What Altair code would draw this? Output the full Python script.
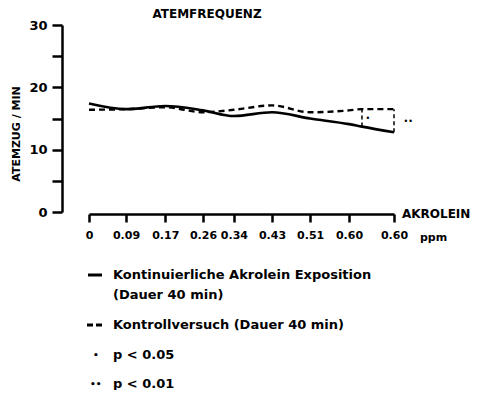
import altair as alt
import pandas as pd

# ---- data ----
TICK_LABELS = ["0", "0.09", "0.17", "0.26", "0.34", "0.43", "0.51", "0.60", "0.60"]
TICK_POS = [0, 0.97, 2.0, 2.99, 3.8, 4.8, 5.8, 6.82, 8.0]

POS = [0, 0.97, 2.0, 2.99, 3.8, 4.8, 5.8, 6.82, 7.16, 8.0]
SOLID_VAL = [17.4, 16.5, 17.0, 16.3, 15.4, 16.0, 15.0, 14.1, 13.7, 12.8]
DASH_VAL = [16.4, 16.5, 16.8, 16.0, 16.4, 17.1, 16.0, 16.3, 16.5, 16.5]

SIG_POS = [7.16, 8.0]
SIG_LO = [13.7, 12.8]
SIG_HI = [16.5, 16.5]

MARK_POS = [7.25, 8.25]
MARK_VAL = [14.9, 14.4]
MARK_TEXT = ["•", "••"]

FONT = "DejaVu Sans"

solid_df = pd.DataFrame({"x": POS, "y": SOLID_VAL})
dash_df = pd.DataFrame({"x": POS, "y": DASH_VAL})
sig_df = pd.DataFrame({"x": SIG_POS, "lo": SIG_LO, "hi": SIG_HI})
mark_df = pd.DataFrame({"x": MARK_POS, "y": MARK_VAL, "t": MARK_TEXT})
one = pd.DataFrame({"a": [0]})

# label expression for x axis built from tick lists
expr = "'" + TICK_LABELS[-1] + "'"
for i in range(len(TICK_POS) - 2, -1, -1):
    mid = (TICK_POS[i] + TICK_POS[i + 1]) / 2
    expr = f"datum.value < {mid} ? '{TICK_LABELS[i]}' : ({expr})"

xscale = alt.Scale(domain=[0, 8], nice=False, zero=False)
yscale = alt.Scale(domain=[0, 30], nice=False)

xaxis = alt.Axis(values=TICK_POS, tickCount=20, labelExpr=expr, title=None,
                 grid=False, offset=2, domainWidth=2.5, tickWidth=2.5,
                 tickSize=8, labelPadding=7, labelFont=FONT, labelFontSize=11,
                 labelFontWeight="bold", labelColor="black",
                 labelOverlap=False, labelFlush=False,
                 domainColor="black", tickColor="black")
yaxis = alt.Axis(values=[0, 5, 10, 15, 20, 25, 30], tickCount=20,
                 labelExpr="datum.value % 10 === 0 ? datum.label : ''",
                 title=None, grid=False, offset=27, domainWidth=2.5,
                 tickWidth=2.5, tickSize=10, labelPadding=5, labelFont=FONT,
                 labelFontSize=13, labelFontWeight="bold", labelColor="black",
                 labelOverlap=False,
                 domainColor="black", tickColor="black")

solid = alt.Chart(solid_df).mark_line(color="black", strokeWidth=2.6,
                                      interpolate="monotone").encode(
    x=alt.X("x:Q", scale=xscale, axis=xaxis),
    y=alt.Y("y:Q", scale=yscale, axis=yaxis),
)
dashed = alt.Chart(dash_df).mark_line(color="black", strokeWidth=2.4,
                                      strokeDash=[6, 4],
                                      interpolate="monotone").encode(
    x=alt.X("x:Q", scale=xscale),
    y=alt.Y("y:Q", scale=yscale),
)
sig = alt.Chart(sig_df).mark_rule(color="black", strokeWidth=1.5,
                                  strokeDash=[4, 3]).encode(
    x=alt.X("x:Q", scale=xscale),
    y=alt.Y("lo:Q", scale=yscale),
    y2="hi:Q",
)
marks = alt.Chart(mark_df).mark_text(font=FONT, fontSize=8, color="black",
                                     align="left").encode(
    x=alt.X("x:Q", scale=xscale),
    y=alt.Y("y:Q", scale=yscale),
    text="t:N",
)


def txt(s, x, y, size=13, align="left", angle=0):
    kw = dict(font=FONT, fontSize=size, fontWeight="bold", color="black",
              align=align, baseline="middle", text=s)
    if angle:
        kw["angle"] = angle
    return alt.Chart(one).mark_text(**kw).encode(x=alt.value(x), y=alt.value(y))


def rule(x1, x2, y, dash=None, w=3):
    kw = dict(color="black", strokeWidth=w)
    if dash:
        kw["strokeDash"] = dash
    return alt.Chart(one).mark_rule(**kw).encode(
        x=alt.value(x1), x2=alt.value(x2), y=alt.value(y))


# positions below are relative to plot origin (page x=89, y=25)
annot = [
    txt("ATEMFREQUENZ", 118, -11, size=12, align="center"),
    txt("ATEMZUG / MIN", -72, 109, size=11, align="center", angle=270),
    txt("AKROLEIN", 313, 189, size=12),
    txt("ppm", 331, 213, size=11),
    rule(-1, 13, 250, w=3),
    txt("Kontinuierliche Akrolein Exposition", 24, 250),
    txt("(Dauer 40 min)", 24, 270),
    rule(-2, 13, 300, dash=[6, 3], w=3),
    txt("Kontrollversuch  (Dauer 40 min)", 24, 300),
    txt("•", 4, 330, size=9),
    txt("p  <  0.05", 24, 330),
    txt("••", 1, 359, size=9),
    txt("p  <  0.01", 24, 359),
]

chart = alt.layer(solid, dashed, sig, marks, *annot).properties(
    width=305, height=187,
    autosize=alt.AutoSizeParams(type="none"),
    padding={"left": 81, "top": 17, "right": 79, "bottom": 178},
).configure_view(stroke=None)

chart.save("out.html", embed_options={"renderer": "svg", "actions": False})
